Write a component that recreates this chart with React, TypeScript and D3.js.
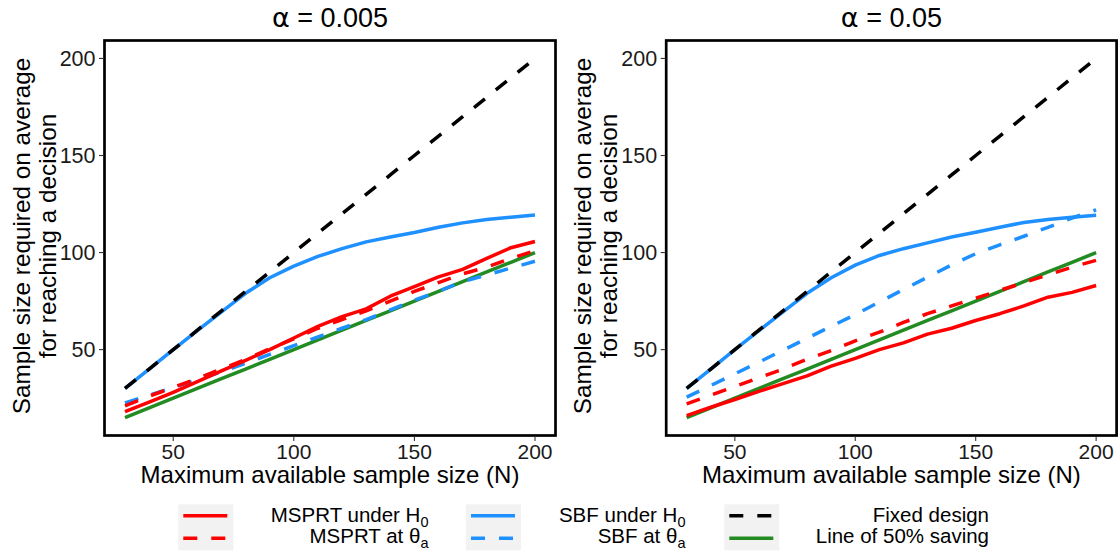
import React from 'react';
import * as d3 from 'd3';

// Maximum available sample size N
const sampleSizes = [30, 40, 50, 60, 70, 80, 90, 100, 110, 120, 130, 140, 150, 160, 170, 180, 190, 200];

// Reference lines shared by both panels
const fixedDesign = [30, 40, 50, 60, 70, 80, 90, 100, 110, 120, 130, 140, 150, 160, 170, 180, 190, 200];
const halfSaving = [15, 20, 25, 30, 35, 40, 45, 50, 55, 60, 65, 70, 75, 80, 85, 90, 95, 100];

// alpha = 0.005
const msprtNullStrict = [18, 23, 28, 33.5, 39, 44.5, 50, 56, 62, 67, 71, 77.5, 82.5, 87.5, 91.3, 97, 102.5, 105.7];
const msprtAltStrict = [21, 26, 30.5, 35, 40, 45, 50.5, 55.5, 61, 65.5, 70, 75, 80, 84.5, 89, 92.5, 97, 101];
const sbfNullStrict = [30, 40, 50, 59.8, 69.5, 79, 87, 93, 98, 102, 105.5, 108, 110.3, 113, 115.3, 117, 118.2, 119.3];
const sbfAltStrict = [22.5, 26.5, 30.5, 34.5, 38.5, 43, 47.5, 52, 56.5, 61, 65.5, 70.5, 75.5, 80, 85, 88.5, 92, 95.5];

// alpha = 0.05
const msprtNullLoose = [16, 20.3, 24.3, 28.5, 32.5, 36.5, 41.5, 45.5, 50, 53.5, 58, 61, 65, 68.5, 72.5, 77, 79.5, 83];
const msprtAltLoose = [22, 26.5, 31, 35.5, 40, 45, 49.5, 54.5, 59, 64, 68.5, 72.5, 76.5, 80.5, 84.5, 88.5, 92.5, 96];
const sbfNullLoose = [30, 40, 50, 59.8, 69.5, 79, 87, 93.5, 98.5, 102, 105, 108, 110.5, 113, 115.5, 117, 118.2, 119.2];
const sbfAltLoose = [25.5, 31.5, 37.5, 43.5, 49.7, 55.8, 62, 68, 74.5, 81, 87.3, 93.6, 99.4, 104, 108.4, 113, 117.8, 122];

const xTicks = [50, 100, 150, 200];
const yTicks = [50, 100, 150, 200];
const alphaLevels = ['0.005', '0.05'];

const RED = '#ff0000';
const BLUE = '#1e90ff';
const GREEN = '#228b22';
const BLACK = '#000000';
const DASH = '14 14';
const LINE_W = 3.5;
const FONT = "'Liberation Sans', Arial, Helvetica, sans-serif";

type Series = { values: number[]; color: string; dashed: boolean };

const panels: { alpha: string; series: Series[] }[] = [
  {
    alpha: alphaLevels[0],
    series: [
      { values: halfSaving, color: GREEN, dashed: false },
      { values: sbfNullStrict, color: BLUE, dashed: false },
      { values: sbfAltStrict, color: BLUE, dashed: true },
      { values: msprtNullStrict, color: RED, dashed: false },
      { values: msprtAltStrict, color: RED, dashed: true },
      { values: fixedDesign, color: BLACK, dashed: true },
    ],
  },
  {
    alpha: alphaLevels[1],
    series: [
      { values: halfSaving, color: GREEN, dashed: false },
      { values: sbfNullLoose, color: BLUE, dashed: false },
      { values: sbfAltLoose, color: BLUE, dashed: true },
      { values: msprtNullLoose, color: RED, dashed: false },
      { values: msprtAltLoose, color: RED, dashed: true },
      { values: fixedDesign, color: BLACK, dashed: true },
    ],
  },
];

const panelBoxes = [
  { x0: 104.5, x1: 555.5 },
  { x0: 666.2, x1: 1116.6 },
];
const Y0 = 40.5;
const Y1 = 435.5;

function Panel({ alpha, series, x0, x1 }: { alpha: string; series: Series[]; x0: number; x1: number }) {
  const x = d3.scaleLinear().domain([21.5, 208.5]).range([x0, x1]);
  const y = d3.scaleLinear().domain([5.75, 209.25]).range([Y1, Y0]);
  const line = d3
    .line<number>()
    .x((_, i) => x(sampleSizes[i]))
    .y((d) => y(d));
  const cx = (x0 + x1) / 2;
  const cy = (Y0 + Y1) / 2 - 2;
  return (
    <g>
      <text x={cx} y={27} textAnchor="middle" fontSize={27} fontFamily={FONT} fill="#000">
        <tspan fontFamily="'DejaVu Sans', sans-serif">α</tspan>
        {' = ' + alpha}
      </text>
      <rect x={x0} y={Y0} width={x1 - x0} height={Y1 - Y0} fill="#fff" />
      {series.map((s, i) => (
        <path
          key={i}
          d={line(s.values) || ''}
          fill="none"
          stroke={s.color}
          strokeWidth={LINE_W}
          strokeDasharray={s.dashed ? DASH : undefined}
          strokeLinejoin="round"
        />
      ))}
      <rect x={x0} y={Y0} width={x1 - x0} height={Y1 - Y0} fill="none" stroke="#000" strokeWidth={2.7} />
      {xTicks.map((t) => (
        <g key={'x' + t}>
          <line x1={x(t)} x2={x(t)} y1={Y1 + 1.3} y2={Y1 + 5.5} stroke="#333" strokeWidth={1.1} />
          <text x={x(t)} y={458.5} textAnchor="middle" fontSize={21} fontFamily={FONT} fill="#1a1a1a">
            {t}
          </text>
        </g>
      ))}
      {yTicks.map((t) => (
        <g key={'y' + t}>
          <line x1={x0 - 5.5} x2={x0 - 1.3} y1={y(t)} y2={y(t)} stroke="#333" strokeWidth={1.1} />
          <text x={x0 - 9} y={y(t)} dy="0.36em" textAnchor="end" fontSize={21.5} fontFamily={FONT} fill="#1a1a1a">
            {t}
          </text>
        </g>
      ))}
      <text x={cx} y={483} textAnchor="middle" fontSize={24} fontFamily={FONT} fill="#000">
        Maximum available sample size (N)
      </text>
      <g transform={`translate(${x0 - 83.5},${cy}) rotate(-90)`}>
        <text x={0} y={0} dy="0.35em" textAnchor="middle" fontSize={24.3} fontFamily={FONT} fill="#000">
          Sample size required on average
        </text>
      </g>
      <g transform={`translate(${x0 - 57.5},${cy}) rotate(-90)`}>
        <text x={0} y={0} dy="0.35em" textAnchor="middle" fontSize={24.3} fontFamily={FONT} fill="#000">
          for reaching a decision
        </text>
      </g>
    </g>
  );
}

type LegendItem = { main: string; sub: string; color: string; dashed: boolean };
const legendColumns: { keyX: number; textRight: number; items: LegendItem[] }[] = [
  {
    keyX: 178.3,
    textRight: 428.5,
    items: [
      { main: 'MSPRT under H', sub: '0', color: RED, dashed: false },
      { main: 'MSPRT at θ', sub: 'a', color: RED, dashed: true },
    ],
  },
  {
    keyX: 466,
    textRight: 685.5,
    items: [
      { main: 'SBF under H', sub: '0', color: BLUE, dashed: false },
      { main: 'SBF at θ', sub: 'a', color: BLUE, dashed: true },
    ],
  },
  {
    keyX: 724.3,
    textRight: 989,
    items: [
      { main: 'Fixed design', sub: '', color: BLACK, dashed: true },
      { main: 'Line of 50% saving', sub: '', color: GREEN, dashed: false },
    ],
  },
];

function Legend() {
  const rowLine = [515.7, 538.3];
  const rowText = [521.7, 543.3];
  return (
    <g>
      {legendColumns.map((col, ci) => (
        <g key={ci}>
          <rect x={col.keyX} y={504.3} width={55} height={46} fill="#f2f2f2" />
          {col.items.map((it, ri) => (
            <g key={ri}>
              <line
                x1={col.keyX + 5}
                x2={col.keyX + 49}
                y1={rowLine[ri]}
                y2={rowLine[ri]}
                stroke={it.color}
                strokeWidth={LINE_W}
                strokeDasharray={it.dashed ? DASH : undefined}
              />
              <text x={col.textRight} y={rowText[ri]} textAnchor="end" fontSize={20.5} fontFamily={FONT} fill="#000">
                {it.main}
                {it.sub ? (
                  <tspan fontSize={14.5} dy={5}>
                    {it.sub}
                  </tspan>
                ) : null}
              </text>
            </g>
          ))}
        </g>
      ))}
    </g>
  );
}

export default function App() {
  return (
    <svg
      width={1119}
      height={554}
      viewBox="0 0 1119 554"
      style={{ position: 'absolute', left: 0, top: 0, background: '#fff' }}
    >
      <rect x={0} y={0} width={1119} height={554} fill="#fff" />
      {panels.map((p, i) => (
        <Panel key={i} alpha={p.alpha} series={p.series} x0={panelBoxes[i].x0} x1={panelBoxes[i].x1} />
      ))}
      <Legend />
    </svg>
  );
}
